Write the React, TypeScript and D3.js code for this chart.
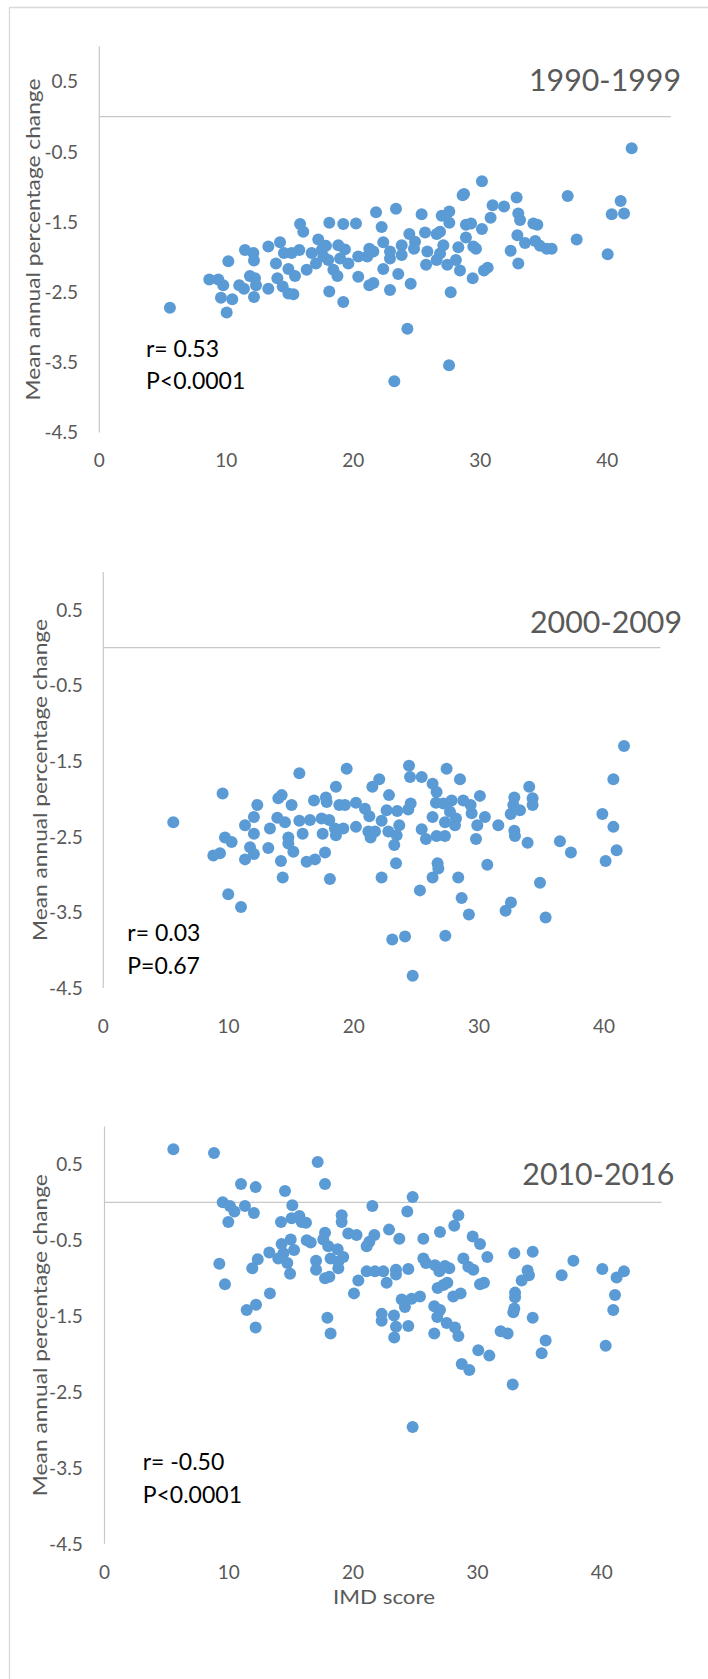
import React, { useEffect, useRef } from 'react';
import * as d3 from 'd3';

// IMD score (x) and mean annual percentage change (y), one pair of arrays per period
const imd1990 = [5.56, 8.66, 9.37, 9.76, 9.58, 10.47, 10.03, 10.16, 11.47, 12.13, 12.18, 11.02, 11.39, 11.86, 12.26, 12.34, 12.18, 13.31, 14.23, 13.91, 13.31, 14.02, 14.44, 14.54, 15.14, 15.75, 14.89, 15.41, 14.89, 15.28, 15.81, 16.06, 16.33, 16.72, 17.24, 17.06, 17.51, 17.85, 18.03, 18.11, 18.11, 18.43, 18.75, 18.82, 19.21, 19.21, 19.34, 19.61, 18.96, 20.21, 20.39, 20.39, 17.64,
  21.26, 21.58, 21.1, 21.79, 22.23, 22.36, 22.36, 21.26, 21.58, 22.89, 22.89, 22.89, 23.36, 23.54, 23.81, 23.81, 24.41, 24.86, 24.78, 24.52, 24.26, 23.23, 25.38, 25.65, 25.83, 25.73, 26.56, 26.83, 26.96, 27.56, 27.56, 27.09, 26.56, 26.83, 27.4, 28.08, 28.27, 28.4, 27.67, 27.54, 28.61, 28.72, 28.87, 29.27, 28.87, 29.45, 29.66, 29.4, 30.13, 30.13, 30.29, 30.58, 30.97, 30.81, 31.87, 32.86, 32.99, 33.13, 32.92, 32.39, 33.52, 32.99, 34.18, 34.49, 34.33, 34.7, 35.23, 35.62, 36.88, 37.59, 40.03, 40.35, 41.05, 41.32, 41.92];
const change1990 = [-2.72, -2.32, -2.32, -2.4, -2.58, -2.6, -2.79, -2.06, -1.9, -1.94, -2.05, -2.4, -2.45, -2.27, -2.3, -2.4, -2.57, -1.85, -1.79, -2.09, -2.45, -2.3, -2.42, -1.94, -1.94, -1.9, -2.17, -2.27, -2.52, -2.53, -1.53, -1.64, -2.18, -1.94, -1.75, -2.09, -1.9, -1.84, -2.04, -1.51, -2.49, -2.18, -2.27, -1.83, -1.53, -2.64, -1.89, -2.09, -2.02, -1.52, -1.99, -2.28, -1.99,
  -1.88, -1.92, -1.99, -1.36, -1.57, -1.79, -2.17, -2.4, -2.37, -2.47, -1.92, -2.02, -1.31, -2.24, -1.83, -1.97, -1.67, -1.78, -1.88, -2.38, -3.02, -3.77, -1.39, -1.65, -1.92, -2.11, -1.67, -1.64, -1.41, -1.35, -1.51, -1.83, -2.04, -1.95, -2.11, -2.04, -1.86, -2.19, -2.5, -3.54, -1.12, -1.1, -1.54, -1.52, -1.72, -1.85, -1.88, -2.3, -0.92, -1.6, -2.19, -2.15, -1.26, -1.44, -1.28, -1.15, -1.38, -1.47, -1.69, -1.91, -1.8, -2.09, -1.52, -1.54, -1.77, -1.84, -1.88, -1.88, -1.13, -1.75, -1.96, -1.39, -1.2, -1.38, -0.45];

const imd2000 = [5.59, 9.53, 8.79, 9.32, 9.72, 10.25, 9.98, 11.0, 11.32, 11.72, 12.03, 11.32, 12.03, 12.03, 12.3, 13.18, 13.31, 13.9, 13.98, 14.25, 14.51, 14.78, 14.78, 15.18, 14.19, 14.33, 15.04, 15.66, 15.66, 15.92, 16.24, 16.91, 16.51, 16.83, 17.44, 17.78, 17.84, 17.52, 17.71, 18.1, 18.05, 18.58, 18.85, 19.3, 19.44, 18.58, 18.5, 19.17, 20.18, 20.18,
  20.9, 21.25, 21.17, 21.35, 21.7, 21.49, 22.04, 22.23, 22.82, 22.63, 22.77, 23.24, 23.43, 23.64, 23.48, 23.38, 22.23, 23.08, 24.1, 24.71, 24.42, 24.5, 25.43, 24.36, 24.55, 25.29, 25.43, 25.77, 26.3, 26.3, 26.62, 26.57, 26.62, 27.29, 27.29, 27.42, 27.16, 27.82, 27.69, 28.09, 28.17, 28.49, 28.75, 29.34, 29.42, 30.08, 29.87, 30.48, 29.77, 26.7, 26.76, 26.3, 28.35, 28.62, 29.2, 27.32, 30.67, 31.55, 32.13, 32.56, 32.83, 32.75, 32.54, 33.28, 32.83, 32.88, 33.89, 34.02, 34.29, 34.29, 34.88, 35.33, 36.47, 37.35, 39.86, 40.12, 40.74, 40.74, 41.0, 41.59];
const change2000 = [-2.31, -1.93, -2.75, -2.72, -2.51, -2.57, -3.26, -3.43, -2.8, -2.64, -2.73, -2.35, -2.24, -2.46, -2.08, -2.65, -2.39, -2.25, -1.99, -1.95, -2.31, -2.51, -2.59, -2.7, -2.82, -3.04, -2.08, -1.66, -2.29, -2.46, -2.83, -2.8, -2.28, -2.02, -2.26, -1.98, -2.04, -2.46, -2.71, -3.06, -2.28, -1.84, -2.08, -2.08, -1.6, -2.48, -2.39, -2.39, -2.05, -2.37,
  -2.13, -2.23, -2.43, -2.51, -2.43, -1.84, -1.74, -2.29, -1.95, -2.15, -2.43, -2.61, -2.48, -2.35, -2.16, -2.85, -3.04, -3.86, -3.82, -4.34, -1.56, -1.71, -1.71, -2.14, -2.06, -3.21, -2.4, -2.53, -2.24, -1.8, -1.91, -2.05, -2.49, -2.49, -2.31, -1.6, -2.06, -2.02, -2.17, -2.35, -2.26, -1.74, -2.02, -2.08, -2.19, -1.96, -2.35, -2.24, -2.53, -2.85, -2.92, -3.04, -3.04, -3.31, -3.53, -3.81, -2.87, -2.35, -3.48, -3.37, -1.98, -2.08, -2.2, -2.15, -2.42, -2.49, -2.58, -1.84, -1.99, -2.08, -3.11, -3.57, -2.56, -2.71, -2.2, -2.82, -1.74, -2.37, -2.68, -1.3];

const imd2010 = [5.54, 8.81, 10.98, 12.16, 9.51, 10.09, 10.45, 11.3, 12.02, 9.96, 9.24, 9.69, 11.89, 12.33, 11.44, 12.19, 12.16, 13.31, 13.26, 13.98, 14.25, 14.39, 14.71, 14.93, 14.98, 15.25, 14.2, 14.52, 15.11, 15.05, 15.68, 15.86, 16.21, 16.27, 16.59, 17.02, 17.02, 17.15, 17.74, 17.74, 17.6, 18.0, 18.19, 17.74, 18.09, 17.93, 18.19, 18.76, 18.81, 18.81, 19.21, 19.08, 19.08, 19.61, 20.28, 20.42, 20.07,
  21.55, 21.09, 21.31, 21.71, 22.89, 23.72, 21.09, 21.76, 22.43, 22.7, 23.45, 23.45, 24.44, 24.36, 24.79, 25.65, 25.65, 25.86, 26.99, 26.59, 26.94, 27.39, 27.74, 28.14, 28.47, 28.87, 29.27, 29.67, 29.62, 30.21, 30.8, 23.91, 24.17, 24.71, 25.38, 22.3, 22.3, 23.29, 23.45, 23.31, 24.44, 24.79, 26.53, 26.99, 26.77, 27.53, 26.8, 27.26, 27.58, 26.53, 28.2, 28.47, 28.06, 28.65, 28.74, 29.35, 30.07, 30.96, 30.21, 30.53, 31.87, 32.43, 32.89, 32.97, 33.03, 33.03, 32.84, 32.97, 33.56, 34.04, 34.15, 34.45, 34.45, 35.49, 35.17, 36.78, 37.72, 40.05, 40.32, 41.2, 41.79, 41.07, 40.93];
const change2010 = [0.7, 0.65, 0.24, 0.2, 0.0, -0.05, -0.12, -0.05, -0.14, -0.26, -0.81, -1.08, -0.87, -0.75, -1.42, -1.35, -1.65, -1.2, -0.66, -0.74, -0.55, -0.67, -0.8, -0.94, -0.49, -0.63, -0.26, 0.15, -0.04, -0.21, -0.18, -0.26, -0.27, -0.5, -0.53, -0.77, -0.89, 0.53, 0.24, -0.4, -0.49, -0.58, -0.74, -1.0, -0.98, -1.52, -1.73, -0.62, -0.78, -0.87, -0.72, -0.17, -0.26, -0.41, -0.43, -1.03, -1.2,
  -0.05, -0.58, -0.52, -0.43, -0.36, -0.48, -0.91, -0.91, -0.91, -1.06, -0.89, -0.95, -0.88, -0.12, 0.07, -0.48, -0.74, -0.8, -0.39, -0.83, -0.91, -0.84, -0.87, -0.31, -0.17, -0.74, -0.85, -0.89, -0.45, -0.55, -0.72, -1.28, -1.38, -1.27, -1.24, -1.47, -1.56, -1.49, -1.64, -1.78, -1.63, -2.96, -1.37, -1.42, -1.51, -1.59, -1.13, -1.09, -1.06, -1.73, -1.65, -1.76, -1.24, -1.2, -2.13, -2.21, -1.95, -2.02, -1.08, -1.06, -1.7, -1.73, -1.45, -1.4, -1.19, -1.25, -2.4, -0.67, -1.03, -0.9, -0.96, -0.65, -1.52, -1.82, -1.99, -0.96, -0.77, -0.88, -1.89, -0.99, -0.91, -1.22, -1.42];

const periods = ['1990-1999', '2000-2009', '2010-2016'];
const rLabels = ['r= 0.53', 'r= 0.03', 'r= -0.50'];
const pLabels = ['P<0.0001', 'P=0.67', 'P<0.0001'];
const xTicks = [0, 10, 20, 30, 40];
const yTicks = [0.5, -0.5, -1.5, -2.5, -3.5, -4.5];

const layout = [
  { x0: 99.3, xUnit: 12.7, xEnd: 45, yZero: 116.7, yUnit: 70.2, xLabelY: 460, titleX: 681, titleY: 91, noteX: 146, noteY: 356.7, yTitleX: 33, tickRight: 78 },
  { x0: 103.3, xUnit: 12.52, xEnd: 44.5, yZero: 647.7, yUnit: 75.6, xLabelY: 1026, titleX: 682, titleY: 632.7, noteX: 127.3, noteY: 941, yTitleX: 40, tickRight: 82.7 },
  { x0: 104.5, xUnit: 12.43, xEnd: 44.8, yZero: 1202.3, yUnit: 75.9, xLabelY: 1571.7, titleX: 674.3, titleY: 1185, noteX: 142.7, noteY: 1470, yTitleX: 40, tickRight: 82.7 },
];

const W = 708;
const H = 1679;
const FONT = 'Lato, "Open Sans", sans-serif';

export default function App() {
  const svgRef = useRef<SVGSVGElement>(null);

  useEffect(() => {
    if (!svgRef.current) return;
    const svg = d3.select(svgRef.current);
    svg.selectAll('*').remove();

    // outer chart-area frame (only top and left are inside the page)
    svg.append('path')
      .attr('d', `M9.5,${H} V7.5 H${W}`)
      .attr('fill', 'none')
      .attr('stroke', '#d9d9d9')
      .attr('stroke-width', 1.3);

    const data = [
      { xs: imd1990, ys: change1990 },
      { xs: imd2000, ys: change2000 },
      { xs: imd2010, ys: change2010 },
    ];

    data.forEach((d, i) => {
      const L = layout[i];
      const x = d3.scaleLinear().domain([0, 45]).range([L.x0, L.x0 + 45 * L.xUnit]);
      const y = d3.scaleLinear().domain([-4.5, 1]).range([L.yZero + 4.5 * L.yUnit, L.yZero - L.yUnit]);
      const g = svg.append('g');

      // vertical axis
      g.append('line')
        .attr('x1', x(0)).attr('x2', x(0))
        .attr('y1', y(1)).attr('y2', y(-4.5))
        .attr('stroke', '#c8c8c8').attr('stroke-width', 1.2);

      // horizontal axis crossing at 0
      g.append('line')
        .attr('x1', x(0)).attr('x2', x(L.xEnd))
        .attr('y1', y(0)).attr('y2', y(0))
        .attr('stroke', '#c8c8c8').attr('stroke-width', 1.2);

      // y tick labels
      g.selectAll('text.ytick')
        .data(yTicks)
        .enter().append('text')
        .attr('class', 'ytick')
        .attr('x', L.tickRight)
        .attr('y', v => y(v))
        .attr('dy', '0.36em')
        .attr('text-anchor', 'end')
        .attr('fill', '#595959')
        .style('font-family', FONT)
        .style('font-size', '19px')
        .text(v => String(v));

      // x tick labels
      g.selectAll('text.xtick')
        .data(xTicks)
        .enter().append('text')
        .attr('class', 'xtick')
        .attr('x', v => x(v))
        .attr('y', L.xLabelY)
        .attr('dy', '0.36em')
        .attr('text-anchor', 'middle')
        .attr('fill', '#595959')
        .style('font-family', FONT)
        .style('font-size', '19px')
        .text(v => String(v));

      // y axis title
      const yMid = (y(1) + y(-4.5)) / 2;
      g.append('text')
        .attr('transform', `translate(${L.yTitleX},${yMid}) rotate(-90)`)
        .attr('dy', '0.36em')
        .attr('text-anchor', 'middle')
        .attr('fill', '#595959')
        .attr('textLength', 322)
        .attr('lengthAdjust', 'spacingAndGlyphs')
        .style('font-family', FONT)
        .style('font-size', '20px')
        .text('Mean annual percentage change');

      // period title
      g.append('text')
        .attr('x', L.titleX)
        .attr('y', L.titleY)
        .attr('text-anchor', 'end')
        .attr('fill', '#595959')
        .attr('textLength', 152)
        .attr('lengthAdjust', 'spacingAndGlyphs')
        .style('font-family', FONT)
        .style('font-size', '30px')
        .text(periods[i]);

      // correlation note
      g.append('text')
        .attr('x', L.noteX)
        .attr('y', L.noteY)
        .attr('fill', '#000')
        .style('font-family', FONT)
        .style('font-size', '23px')
        .text(rLabels[i]);
      g.append('text')
        .attr('x', L.noteX)
        .attr('y', L.noteY + 32.5)
        .attr('fill', '#000')
        .style('font-family', FONT)
        .style('font-size', '23px')
        .text(pLabels[i]);

      // points
      g.selectAll('circle')
        .data(d.xs.map((v, k) => [v, d.ys[k]]))
        .enter().append('circle')
        .attr('cx', p => x(p[0]))
        .attr('cy', p => y(p[1]))
        .attr('r', 6)
        .attr('fill', '#5b9bd5');

      if (i === 2) {
        g.append('text')
          .attr('x', 384)
          .attr('y', 1596.7)
          .attr('dy', '0.36em')
          .attr('text-anchor', 'middle')
          .attr('fill', '#595959')
          .attr('textLength', 102)
          .attr('lengthAdjust', 'spacingAndGlyphs')
          .style('font-family', FONT)
          .style('font-size', '20px')
          .text('IMD score');
      }
    });
  }, []);

  return (
    <div style={{ position: 'absolute', left: 0, top: 0 }}>
      <svg ref={svgRef} width={W} height={H} viewBox={`0 0 ${W} ${H}`} style={{ display: 'block', background: '#fff' }} />
    </div>
  );
}
